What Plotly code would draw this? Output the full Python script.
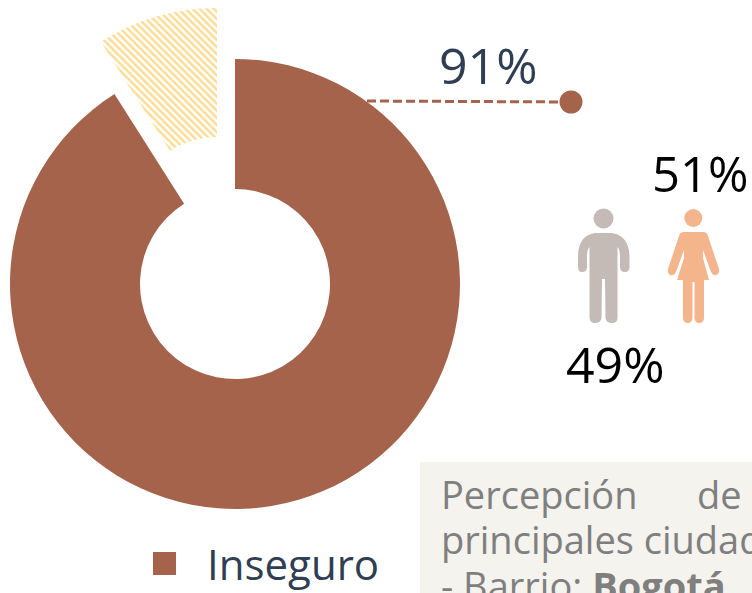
import plotly.graph_objects as go

# Data
labels = ["Inseguro", "Seguro"]
shares = [91, 9]
gender_labels = ["Hombres", "Mujeres"]
gender_shares = [49, 51]

W, H = 752, 593
BROWN = "#A5634C"
FONT = "Open Sans, Noto Sans, sans-serif"


def dom(a, b, size):
    return [a / size, b / size]


fig = go.Figure()

# Main ring: only the first slice is coloured
fig.add_trace(go.Pie(
    labels=labels, values=shares, sort=False, direction="clockwise", rotation=0,
    hole=95 / 225, textinfo="none", hoverinfo="label+percent", showlegend=False,
    marker=dict(colors=[BROWN, "rgba(0,0,0,0)"], line=dict(width=0)),
    domain=dict(x=dom(10, 460, W), y=dom(H - 509, H - 59, H)),
))
# Detached hatched slice
fig.add_trace(go.Pie(
    labels=labels, values=shares, sort=False, direction="clockwise", rotation=0,
    hole=88 / 217, textinfo="none", hoverinfo="label+percent", showlegend=False,
    marker=dict(
        colors=["rgba(0,0,0,0)", "#FFFFFF"], line=dict(width=0),
        pattern=dict(shape=["", "\\"], fgcolor="#FBDD96", bgcolor="#FFFFFF",
                     size=5, solidity=0.5, fillmode="replace"),
    ),
    domain=dict(x=dom(0, 434, W), y=dom(H - 442, H - 8, H)),
))

# Leader line and end dot
fig.add_trace(go.Scatter(
    x=[367, 571], y=[101, 102], mode="lines", showlegend=False, hoverinfo="skip",
    line=dict(color=BROWN, width=3, dash="9px,4px"),
))
fig.add_trace(go.Scatter(
    x=[571], y=[102], mode="markers", showlegend=False, hoverinfo="skip",
    marker=dict(color=BROWN, size=23),
))

man = ("M 595,233 L 612,233 Q 629,236 629.5,256 L 629.5,267 Q 629.5,272 625,272 "
       "Q 620,272 620,267 L 620,257 Q 620,250 617.5,247 L 617.5,318 Q 617.5,323 612,323 "
       "Q 606,323 605.5,318 L 605,279 L 602,279 L 601.5,318 Q 601,323 595,323 "
       "Q 590,323 589.5,318 L 589.5,247 Q 587,250 587,257 L 587,267 Q 587,272 582,272 "
       "Q 578,272 578,267 L 578,256 Q 578,236 595,233 Z")
woman = ("M 684,232 L 703,232 Q 707,232 708,236 L 719,269 Q 720,274 716,275 Q 713,276 711,272 "
         "L 703,250 L 703,258 L 709,280 L 704,280 L 704,318 Q 704,323 699,323 Q 695,323 694.5,318 "
         "L 694.5,282 L 692.5,282 L 692.5,318 Q 692,323 688,323 Q 683,323 683,318 L 683,280 "
         "L 677,280 L 684,258 L 684,250 L 676,272 Q 674,276 670,275 Q 667,273 668,269 "
         "L 679,236 Q 680,232 684,232 Z")

shapes = [
    dict(type="rect", x0=420, x1=752, y0=462, y1=593, fillcolor="#F4F3EE", line_width=0, layer="below"),
    dict(type="rect", x0=153, x1=176, y0=552, y1=575, fillcolor=BROWN, line_width=0),
    dict(type="circle", x0=593.5, x1=613.5, y0=208.5, y1=228.5, fillcolor="#C4BAB6", line_width=0),
    dict(type="path", path=man, fillcolor="#C4BAB6", line_width=0),
    dict(type="circle", x0=684.3, x1=702.3, y0=209, y1=227, fillcolor="#F4B58D", line_width=0),
    dict(type="path", path=woman, fillcolor="#F4B58D", line_width=0),
]


def note(text, x, y, size, color, anchor="left"):
    return dict(text=text, x=x, y=y, xref="x", yref="y", xanchor=anchor, yanchor="middle",
                showarrow=False, font=dict(family=FONT, size=size, color=color))


annotations = [
    note(f"{shares[0]}%", 437, 65, 50, "#2F3E52"),
    note(f"{gender_shares[1]}%", 650, 173, 49, "#000000"),
    note(f"{gender_shares[0]}%", 564, 364, 50, "#000000"),
    note(labels[0], 205, 563, 42, "#2F3E52"),
    note("Percepción", 439, 494, 38, "#7F7F7F"),
    note("de", 695, 494, 38, "#7F7F7F"),
    note("principales ciudades", 439, 539, 38, "#7F7F7F"),
    note("- Barrio: <b>Bogotá</b>", 439, 585, 38, "#7F7F7F"),
]

fig.update_layout(
    width=W, height=H, margin=dict(l=0, r=0, t=0, b=0), autosize=False,
    paper_bgcolor="#FFFFFF", plot_bgcolor="rgba(0,0,0,0)", showlegend=False,
    xaxis=dict(range=[0, W], visible=False, fixedrange=True),
    yaxis=dict(range=[H, 0], visible=False, fixedrange=True),
    shapes=shapes, annotations=annotations,
)

fig.write_html("out.html", post_script="document.body.style.margin='0';document.body.style.overflow='hidden';",
               config=dict(displayModeBar=False))
